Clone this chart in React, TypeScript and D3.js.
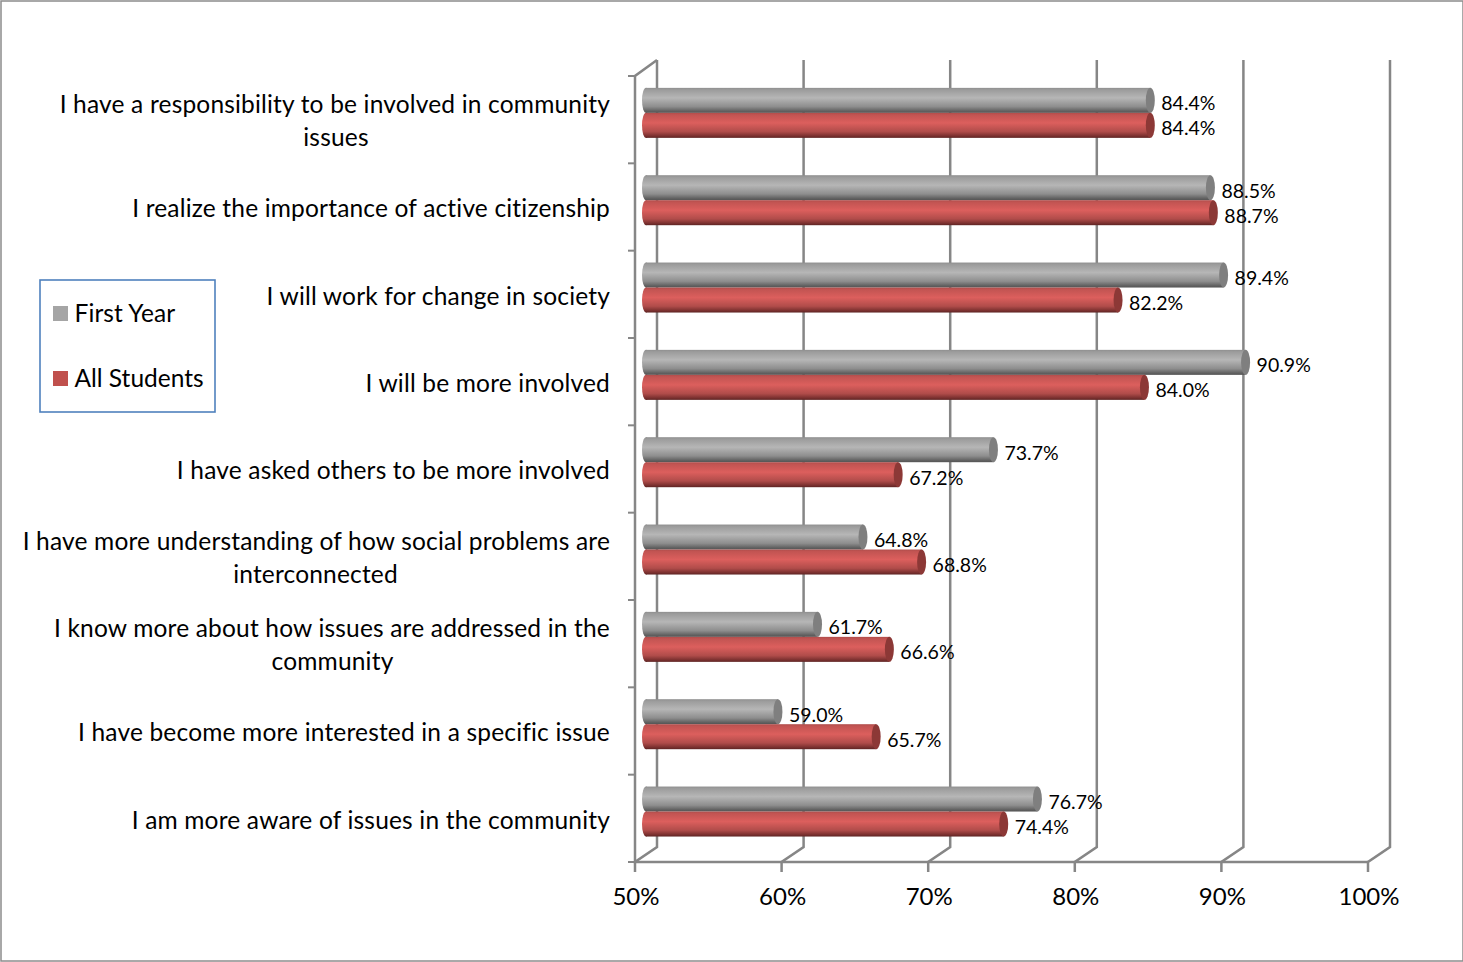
import React from 'react';
import { scaleLinear, scaleBand, range } from 'd3';

const categories: string[][] = [
  ['I have a responsibility to be involved in community', 'issues'],
  ['I realize the importance of active citizenship'],
  ['I will work for change in society'],
  ['I will be more involved'],
  ['I have asked others to be more involved'],
  ['I have more understanding of how social problems are', 'interconnected'],
  ['I know more about how issues are addressed in the', 'community'],
  ['I have become more interested in a specific issue'],
  ['I am more aware of issues in the community'],
];
const firstYear = [84.4, 88.5, 89.4, 90.9, 73.7, 64.8, 61.7, 59.0, 76.7];
const allStudents = [84.4, 88.7, 82.2, 84.0, 67.2, 68.8, 66.6, 65.7, 74.4];
const xTicks = [50, 60, 70, 80, 90, 100];

const FONT = 'Lato, Carlito, "Open Sans", sans-serif';
const AXIS = '#868686';

const W = 1463;
const H = 962;
const depthX = 22;
const depthY = 15;

const x = scaleLinear().domain([50, 100]).range([635, 1368]);
const y = scaleBand<number>().domain(range(categories.length)).range([76, 862]);
const barH = 25;

// centre of the wrapped second line, by category index
const wrapCentre: Record<number, number> = { 0: 336, 5: 315.5, 6: 332.5 };

const gradStops = (c: string[]) =>
  [0, 0.08, 0.4, 0.75, 0.92, 1].map((o, i) => <stop key={i} offset={o} stopColor={c[i]} />);

const Bar: React.FC<{ v: number; top: number; fill: string; cap: string }> = ({ v, top, fill, cap }) => {
  const x0 = x(50) + 11;
  const x1 = x(v) + 11;
  const cy = top + barH / 2;
  return (
    <g>
      <ellipse cx={x0} cy={cy} rx={4} ry={barH / 2} fill={`url(#${fill})`} />
      <rect x={x0} y={top} width={x1 - x0} height={barH} fill={`url(#${fill})`} />
      <ellipse cx={x1} cy={cy} rx={4.5} ry={barH / 2} fill={cap} />
      <text x={x1 + 11} y={cy + 5} fontSize={19.5} dominantBaseline="middle" fill="#000">
        {v.toFixed(1)}%
      </text>
    </g>
  );
};

export default function App() {
  const [yTop, yBottom] = y.range();
  return (
    <svg
      width={W}
      height={H}
      style={{ position: 'absolute', left: 0, top: 0, display: 'block' }}
      fontFamily={FONT}
    >
      <defs>
        <linearGradient id="grayBar" x1="0" y1="0" x2="0" y2="1">
          {gradStops(['#8f8f8f', '#9c9c9c', '#b6b6b6', '#8e8e8e', '#636363', '#545454'])}
        </linearGradient>
        <linearGradient id="redBar" x1="0" y1="0" x2="0" y2="1">
          {gradStops(['#b04d4b', '#c25452', '#dc5f5d', '#b04c4a', '#7c3130', '#5e2423'])}
        </linearGradient>
      </defs>
      <rect x={1} y={1} width={W - 1} height={H - 2} fill="#fff" stroke="#8c8c8c" strokeWidth={1.5} />

      {/* back wall gridlines + floor diagonals */}
      {xTicks.map((t) => (
        <path
          key={t}
          d={`M${x(t)},${yBottom + 10}V${yBottom}L${x(t) + depthX},${yBottom - depthY}V${yTop - depthY - 1}`}
          fill="none"
          stroke={AXIS}
          strokeWidth={2.5}
        />
      ))}
      <path
        d={`M${x(50) + depthX},${yTop - depthY - 1}L${x(50)},${yTop}V${yBottom}H${x(100)}`}
        fill="none"
        stroke={AXIS}
        strokeWidth={2.5}
      />
      {range(categories.length + 1).map((i) => {
        const ty = yTop + i * y.step();
        return <line key={i} x1={x(50) - 7} x2={x(50)} y1={ty} y2={ty} stroke={AXIS} strokeWidth={2} />;
      })}

      {/* bars */}
      {categories.map((_, i) => {
        const mid = (y(i) as number) + y.bandwidth() / 2 - 6.8;
        return (
          <g key={i}>
            <Bar v={firstYear[i]} top={mid - barH} fill="grayBar" cap="#7f7f7f" />
            <Bar v={allStudents[i]} top={mid} fill="redBar" cap="#8c3836" />
          </g>
        );
      })}

      {/* category labels */}
      {categories.map((lines, i) => {
        const cy = (y(i) as number) + y.bandwidth() / 2 + 4;
        return lines.map((line, j) => (
          <text
            key={j}
            x={j > 0 ? wrapCentre[i] : 610}
            y={cy + (j - (lines.length - 1) / 2) * 33}
            textAnchor={j > 0 ? 'middle' : 'end'}
            dominantBaseline="middle"
            fontSize={24.5}
            letterSpacing={0.18}
            fill="#000"
          >
            {line}
          </text>
        ));
      })}

      {/* x tick labels */}
      {xTicks.map((t) => (
        <text key={t} x={x(t) + 1} y={905} textAnchor="middle" fontSize={24} fill="#000">
          {t}%
        </text>
      ))}

      {/* legend */}
      <rect x={40} y={280} width={175} height={132} fill="#fff" stroke="#4f81bd" strokeWidth={1.6} />
      <rect x={53} y={306} width={15} height={15} fill="#a5a5a5" />
      <text x={74.5} y={322} fontSize={24.5} letterSpacing={0.1} fill="#000">First Year</text>
      <rect x={53} y={371} width={15} height={15} fill="#c0504d" />
      <text x={74.5} y={387} fontSize={24.5} fill="#000">All Students</text>
    </svg>
  );
}
